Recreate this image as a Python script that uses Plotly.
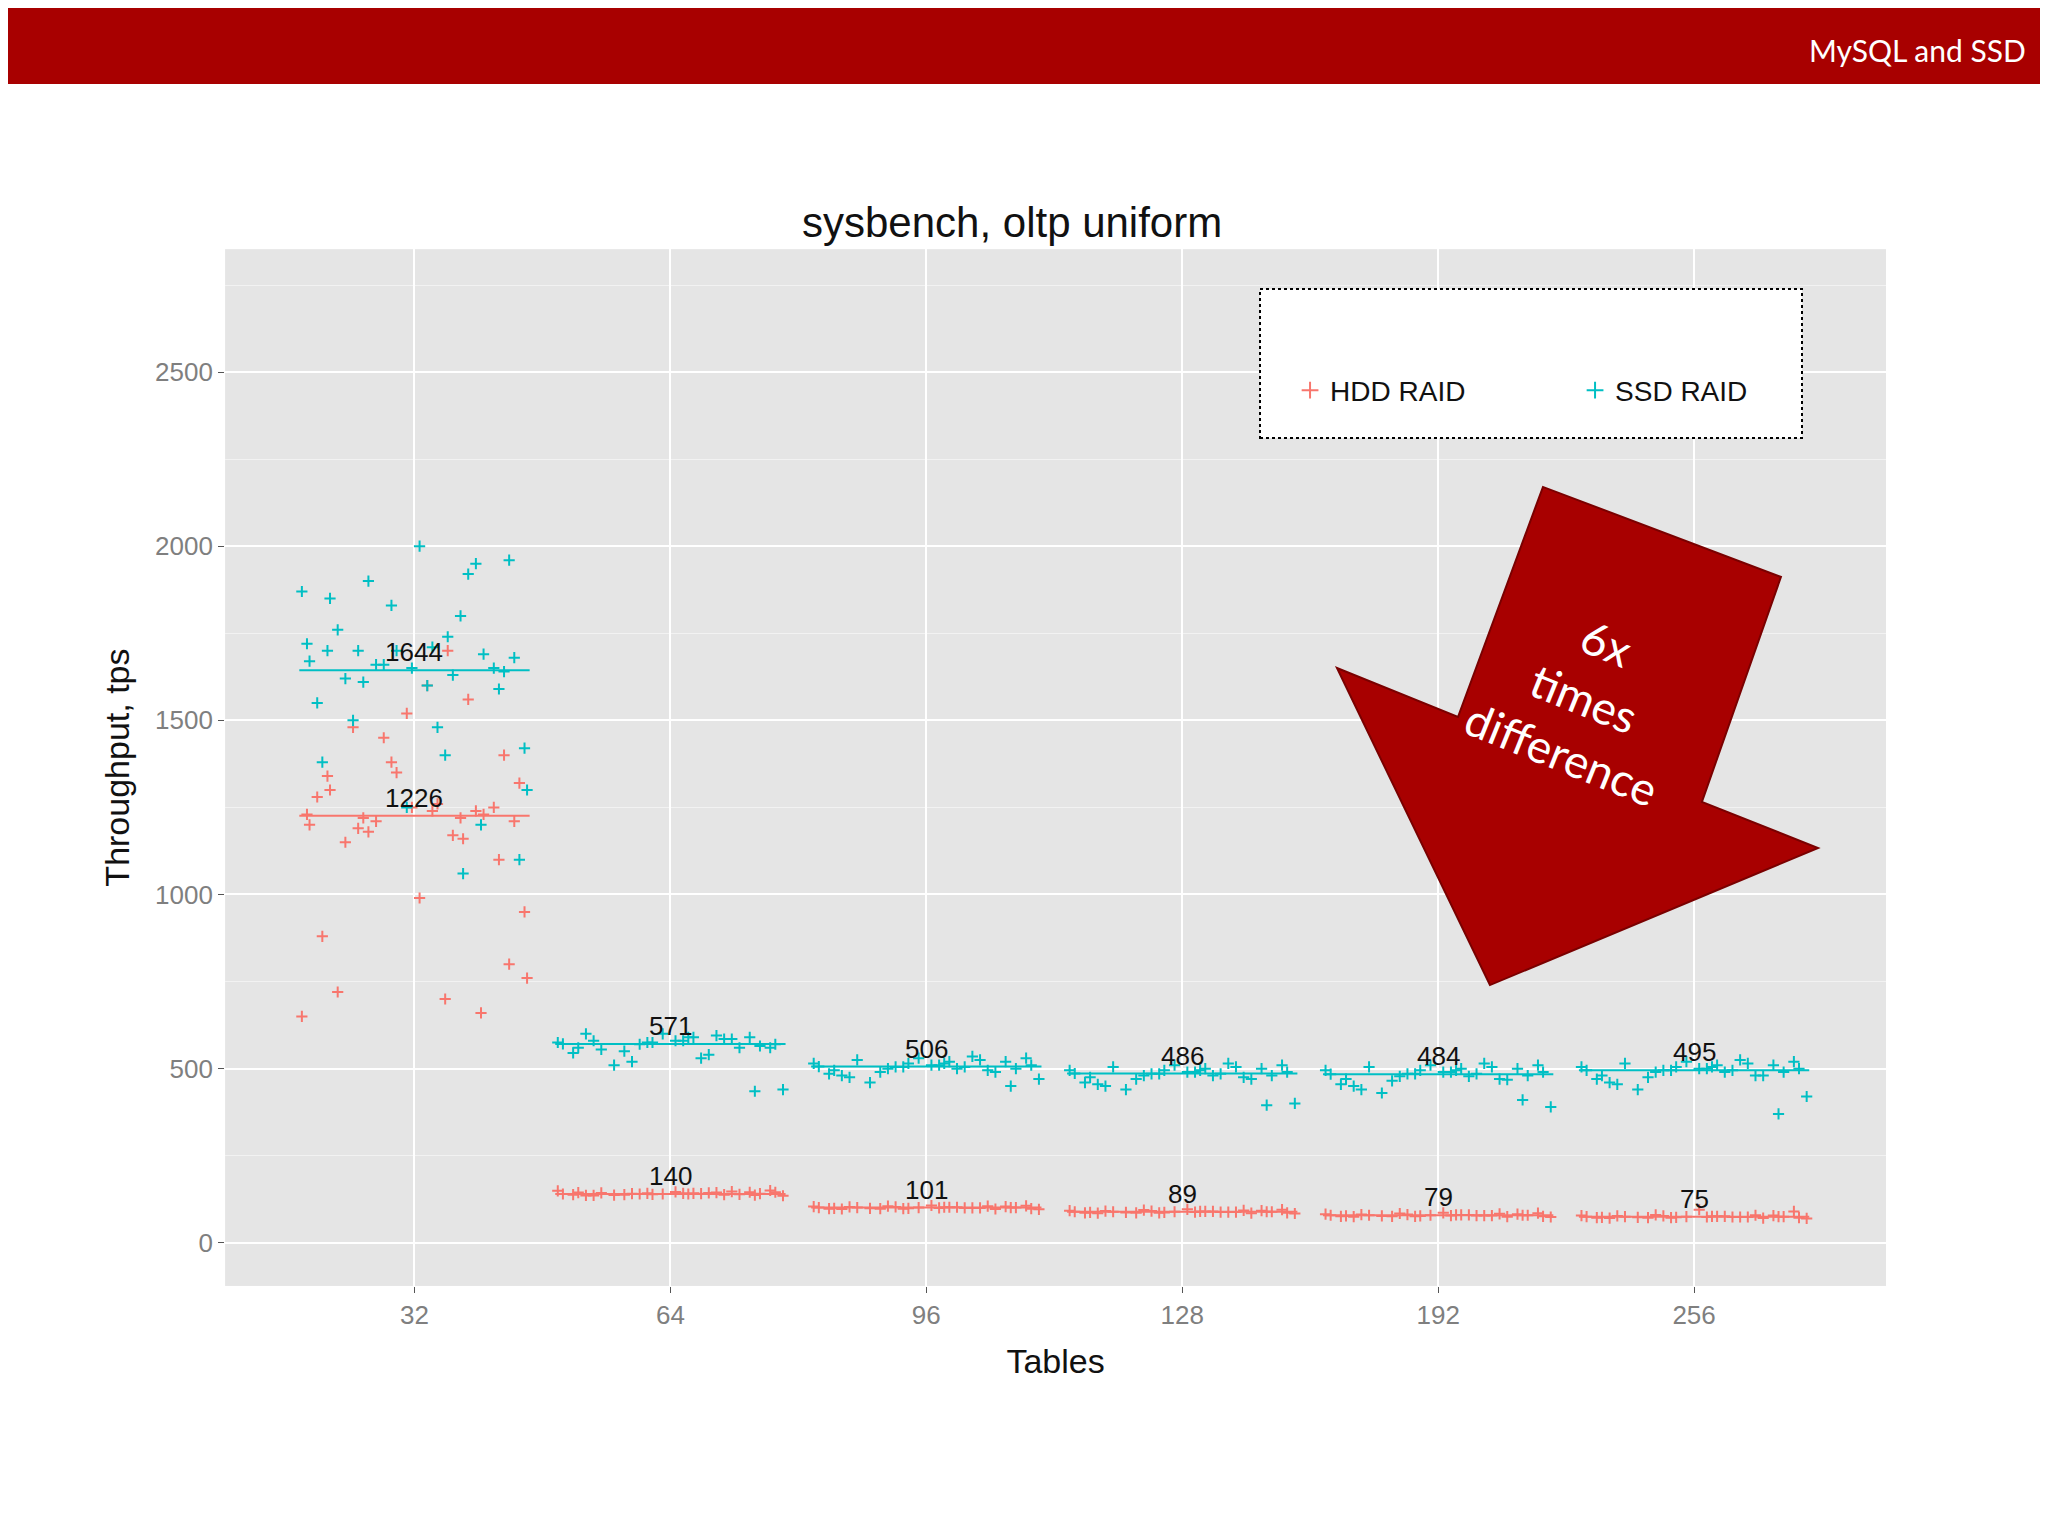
import plotly.graph_objects as go

categories = ["32", "64", "96", "128", "192", "256"]
hdd_mean = [1226, 140, 101, 89, 79, 75]
ssd_mean = [1644, 571, 506, 486, 484, 495]

jitter = [-0.42, 0.31, -0.18, 0.05, 0.39, -0.33, 0.12, -0.07, 0.24, -0.27, 0.44, -0.12, 0.18, -0.38,
          0.02, 0.35, -0.22, 0.09, -0.44, 0.27, -0.03, 0.15, -0.30, 0.41, -0.15, 0.21, -0.36, 0.07,
          0.33, -0.09, 0.26, -0.41, 0.13, -0.24, 0.37, -0.01, 0.19, -0.34, 0.43, -0.20]

hdd_vals = [
    [1230, 1250, 1180, 1600, 1210, 1300, 700, 1350, 1240, 1150, 760, 1450, 1220, 1280, 990, 1400,
     1190, 1260, 650, 1230, 1520, 1170, 720, 1320, 1210, 1560, 880, 1240, 1100, 1380, 660, 1200,
     1700, 1480, 800, 1250, 1160, 1340, 950, 1220],
    [140, 145, 138, 142, 150, 136, 141, 139, 147, 143, 135, 140, 144, 138, 146, 141, 137, 142,
     149, 139, 140, 143, 136, 145, 141, 138, 144, 140, 137, 142],
    [101, 104, 98, 100, 106, 97, 102, 99, 105, 101, 96, 103, 100, 98, 107, 101, 99, 102,
     104, 97, 101, 100, 103, 98, 105, 100, 99, 102, 101, 98],
    [89, 92, 86, 88, 95, 85, 90, 87, 93, 89, 84, 91, 88, 86, 96, 89, 87, 90,
     92, 85, 89, 88, 91, 86, 94, 88, 87, 90, 89, 86],
    [79, 82, 76, 78, 85, 75, 80, 77, 83, 79, 74, 81, 78, 76, 86, 79, 77, 80,
     82, 75, 79, 78, 81, 76, 84, 78, 77, 80, 79, 76],
    [75, 78, 72, 74, 90, 71, 76, 73, 79, 75, 70, 77, 74, 72, 95, 75, 73, 76,
     78, 71, 75, 74, 77, 72, 80, 74, 73, 76, 75, 72],
]
ssd_vals = [
    [1720, 1650, 1900, 1600, 1680, 1850, 1400, 1700, 1950, 1620, 1300, 1660, 1800, 1550, 2000, 1640,
     1700, 1480, 1870, 1690, 1250, 1630, 1760, 1100, 1660, 1920, 1380, 1710, 1590, 1830, 1200, 1670,
     1740, 1500, 1960, 1650, 1060, 1700, 1420, 1610],
    [571, 590, 550, 580, 560, 600, 530, 575, 585, 555, 440, 570, 595, 545, 580, 565, 510, 590,
     575, 560, 600, 540, 580, 570, 520, 585, 560, 590, 435, 575],
    [506, 520, 490, 510, 530, 480, 500, 515, 495, 525, 470, 505, 535, 485, 510, 500, 460, 520,
     515, 490, 530, 505, 475, 510, 500, 525, 495, 515, 450, 505],
    [486, 500, 470, 490, 510, 455, 480, 495, 475, 505, 400, 485, 515, 460, 490, 480, 440, 500,
     495, 470, 510, 485, 450, 490, 480, 505, 475, 495, 395, 485],
    [484, 500, 465, 490, 510, 450, 478, 495, 470, 505, 390, 485, 515, 455, 490, 480, 430, 500,
     495, 468, 510, 485, 440, 490, 478, 505, 470, 495, 410, 485],
    [495, 510, 475, 500, 520, 460, 490, 505, 480, 515, 420, 495, 525, 470, 500, 490, 440, 510,
     505, 480, 520, 495, 455, 500, 490, 515, 480, 505, 370, 495],
]

HDD_C = "#F8766D"
SSD_C = "#00BFC4"

fig = go.Figure()

def add_group(vals, means, color, name):
    xs, ys = [], []
    for i, v in enumerate(vals):
        for k, y in enumerate(v):
            xs.append(i + jitter[k % len(jitter)])
            ys.append(y)
    fig.add_trace(go.Scatter(x=xs, y=ys, mode="markers", name=name,
                             marker=dict(symbol="cross-thin", size=8, line=dict(color=color, width=2), color=color)))
    for i, m in enumerate(means):
        fig.add_trace(go.Scatter(x=[i - 0.45, i + 0.45], y=[m, m], mode="lines", showlegend=False,
                                 line=dict(color=color, width=2), hoverinfo="skip"))
        fig.add_annotation(x=i, y=m, text=str(m), showarrow=False, yshift=18,
                           font=dict(size=26, color="#111", family="Liberation Sans"))

add_group(hdd_vals, hdd_mean, HDD_C, "HDD RAID")
add_group(ssd_vals, ssd_mean, SSD_C, "SSD RAID")

def P(x, y):
    return x / 2048, 1 - y / 1536

pts = [(1329, 660), (1450, 709), (1535, 479), (1773, 569), (1694, 794), (1810, 840), (1482, 977)]
path = "M " + " L ".join(f"{P(*p)[0]:.4f},{P(*p)[1]:.4f}" for p in pts) + " Z"

fig.update_layout(
    width=2048, height=1536, paper_bgcolor="white", plot_bgcolor="#E5E5E5",
    margin=dict(l=0, r=0, t=0, b=0),
    font=dict(family="Liberation Sans"),
    xaxis=dict(domain=[0.106, 0.917], range=[-0.74, 5.75], tickmode="array",
               tickvals=list(range(6)), ticktext=categories, showgrid=True, gridcolor="white",
               gridwidth=2, zeroline=False, ticks="outside", ticklen=6, tickcolor="#555",
               tickfont=dict(size=26, color="#7f7f7f"),
               title=dict(text="Tables", font=dict(size=34, color="#111"), standoff=20)),
    yaxis=dict(domain=[0.168, 0.843], range=[-124, 2853], tickvals=[0, 500, 1000, 1500, 2000, 2500],
               showgrid=True, gridcolor="white", gridwidth=2, zeroline=False,
               minor=dict(dtick=250, showgrid=True, gridcolor="#F2F2F2", gridwidth=1),
               ticks="outside", ticklen=6, tickcolor="#555", tickfont=dict(size=26, color="#7f7f7f"),
               title=dict(text="Throughput, tps", font=dict(size=34, color="#111"), standoff=15)),
    legend=dict(orientation="h", x=0.626, y=0.751, xanchor="left", yanchor="middle",
                bgcolor="rgba(0,0,0,0)", font=dict(size=28, color="#111"), itemsizing="constant",
                entrywidth=240),
    shapes=[
        dict(type="rect", xref="paper", yref="paper", x0=-0.01, x1=1.01, y0=1 - 76 / 1536, y1=1.01,
             fillcolor="#A80000", line=dict(width=0), layer="above"),
        dict(type="rect", xref="paper", yref="paper", x0=1252 / 2048, x1=1794 / 2048,
             y0=1 - 430 / 1536, y1=1 - 281 / 1536, fillcolor="white",
             line=dict(color="black", width=2, dash="dot"), layer="above"),
        dict(type="path", xref="paper", yref="paper", path=path, fillcolor="#A80000",
             line=dict(color="#7a0000", width=2), layer="above"),
    ],
    annotations=list(fig.layout.annotations) + [
        dict(xref="paper", yref="paper", x=2020 / 2048, y=1 - 22 / 1536, text="MySQL and SSD",
             showarrow=False, xanchor="right", font=dict(size=30, color="white", family="Lato")),
        dict(xref="paper", yref="paper", x=0.49, y=1 - 189 / 1536, text="sysbench, oltp uniform",
             showarrow=False, font=dict(size=42, color="#111")),
        dict(xref="paper", yref="paper", x=1706 / 2048, y=1 - 690 / 1536,
             text="6x<br>times<br>difference", textangle=22, showarrow=False,
             font=dict(size=46, color="white", family="Lato")),
    ],
)
fig.write_html("out.html")
